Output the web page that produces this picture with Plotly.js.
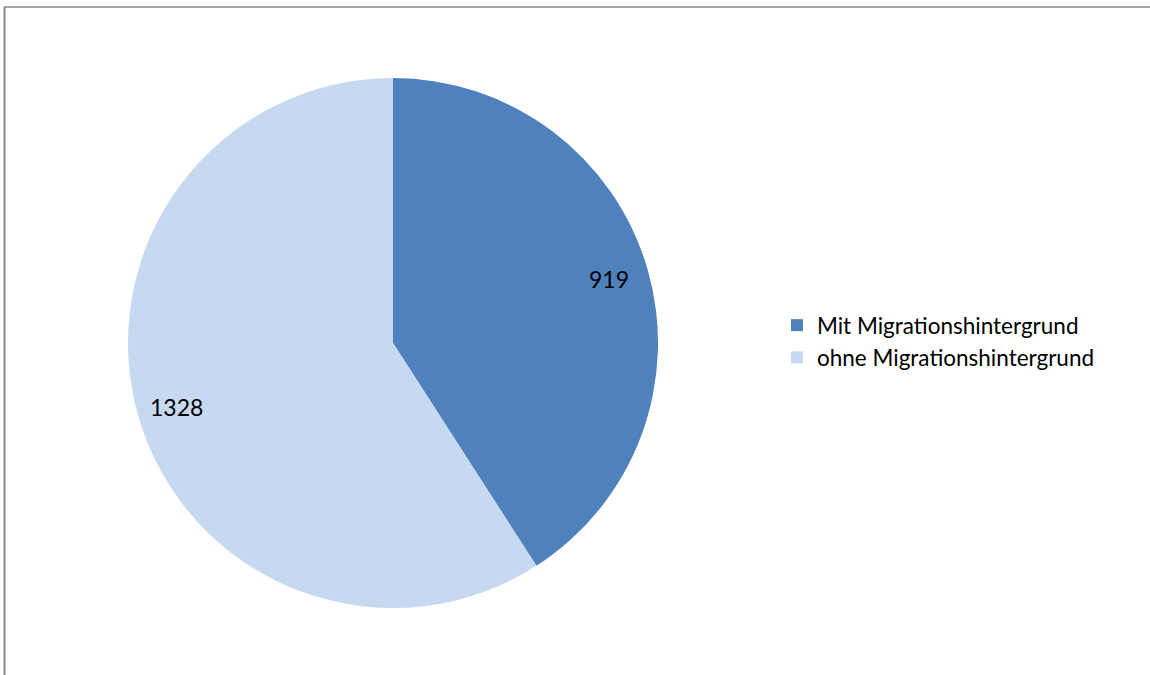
<!DOCTYPE html>
<html>
<head>
<meta charset="utf-8">
<script src="https://cdn.plot.ly/plotly-3.0.1.min.js"></script>
<style>html,body{margin:0;padding:0;background:#fff;}#chart{width:1150px;height:675px;}</style>
</head>
<body>
<div id="chart"></div>
<script>
const categories = ["Mit Migrationshintergrund", "ohne Migrationshintergrund"];
const values = [919, 1328];
const colors = ["#4F81BD", "#C6D9F1"];

const W = 1150, H = 675;
const pieDomX = [128 / W, 658 / W];
const pieDomY = [1 - 608 / H, 1 - 78 / H];
const FONT = "Lato, 'Open Sans', sans-serif";

// label positions derived from values (mid-angle of each slice, clockwise from top)
const total = values.reduce((a, b) => a + b, 0);
const labelR = 0.85;
const annotations = [];
let acc = 0;
values.forEach(v => {
  const mid = (acc + v / 2) / total * 2 * Math.PI;
  annotations.push({
    xref: "x", yref: "y",
    x: labelR * Math.sin(mid),
    y: labelR * Math.cos(mid),
    text: String(v),
    showarrow: false,
    xanchor: "center", yanchor: "middle",
    font: { family: FONT, size: 23, color: "#000" }
  });
  acc += v;
});

const data = [
  {
    type: "pie",
    labels: categories,
    values: values,
    sort: false,
    direction: "clockwise",
    rotation: 0,
    marker: { colors: colors, line: { width: 0 } },
    textinfo: "none",
    hoverinfo: "label+value",
    domain: { x: pieDomX, y: pieDomY },
    showlegend: true
  }
];

const layout = {
  width: W,
  height: H,
  margin: { l: 0, r: 0, t: 0, b: 0 },
  paper_bgcolor: "#fff",
  plot_bgcolor: "rgba(0,0,0,0)",
  font: { family: FONT, size: 20, color: "#000" },
  xaxis: { domain: pieDomX, range: [-1, 1], visible: false, fixedrange: true },
  yaxis: { domain: pieDomY, range: [-1, 1], visible: false, fixedrange: true },
  annotations: annotations,
  legend: {
    x: 777 / W,
    xanchor: "left",
    y: 1 - 304 / H,
    yanchor: "top",
    font: { family: FONT, size: 22.5, color: "#000" },
    bgcolor: "rgba(0,0,0,0)"
  },
  shapes: [
    { type: "line", xref: "paper", yref: "paper", x0: 4 / W, x1: 1, y0: 1 - 7 / H, y1: 1 - 7 / H, line: { color: "#878787", width: 1.5 } },
    { type: "line", xref: "paper", yref: "paper", x0: 4.5 / W, x1: 4.5 / W, y0: 0, y1: 1 - 7 / H, line: { color: "#878787", width: 2 } }
  ]
};

Plotly.newPlot("chart", data, layout, { displayModeBar: false, staticPlot: true });
</script>
</body>
</html>
